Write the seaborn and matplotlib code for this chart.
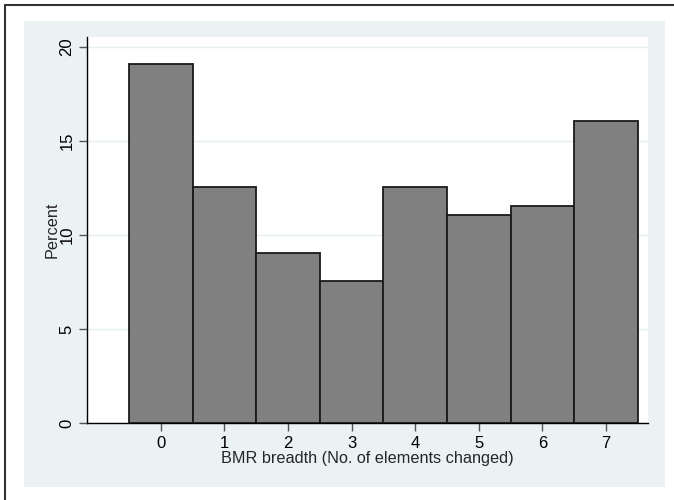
import numpy as np
import pandas as pd
import seaborn as sns
import matplotlib.pyplot as plt
from matplotlib.patches import Rectangle
from matplotlib.lines import Line2D

# BMR breadth values and share of observations (percent)
breadth = [0, 1, 2, 3, 4, 5, 6, 7]
percent = [19.10, 12.56, 9.05, 7.54, 12.56, 11.06, 11.56, 16.08]
yticks = [0, 5, 10, 15, 20]

sns.set_theme(style="white")
plt.rcParams['font.family'] = ['Liberation Sans', 'DejaVu Sans']

W, H = 674, 500
fig = plt.figure(figsize=(W / 100, H / 100), dpi=100)
fig.patch.set_facecolor("white")

# light blue outer panel (Stata style)
fig.add_artist(Rectangle((24 / W, 1 - 487 / H), (665 - 24) / W, (487 - 21) / H,
                         transform=fig.transFigure, facecolor="#EAF2F3",
                         edgecolor="none", zorder=0))
# black frame lines on top and left
fig.add_artist(Line2D([4.5 / W, 1], [1 - 4.5 / H, 1 - 4.5 / H], transform=fig.transFigure,
                      color="#333333", lw=1.5))
fig.add_artist(Line2D([4.5 / W, 4.5 / W], [0, 1 - 4.5 / H], transform=fig.transFigure,
                      color="#333333", lw=1.5))

ax = fig.add_axes([87 / W, 1 - 423 / H, (648 - 87) / W, (423 - 37) / H])
ax.set_facecolor("white")

df = pd.DataFrame({"breadth": breadth, "percent": percent})
sns.histplot(data=df, x="breadth", weights="percent", discrete=True, ax=ax,
             color="#808080", edgecolor="#1a1a1a", linewidth=1.3, alpha=1, zorder=3)

ax.set_xlim(-1.16, 7.66)
ax.set_ylim(0, 20.53)
ax.set_yticks(yticks)
ax.set_yticklabels([str(v) for v in yticks], rotation=90, va="center", fontsize=12)
ax.set_xticks(breadth)
ax.set_xticklabels([str(v) for v in breadth], fontsize=12)
ax.yaxis.grid(True, color="#E6EFEF", lw=1, zorder=0)
ax.set_axisbelow(True)

for s in ["top", "right"]:
    ax.spines[s].set_visible(False)
for s in ["left", "bottom"]:
    ax.spines[s].set_color("black")
    ax.spines[s].set_linewidth(1.0)

ax.tick_params(axis="both", which="major", direction="out", length=6, width=1,
               color="#555555", labelcolor="black", bottom=True, left=True, pad=3)

ax.set_xlabel("BMR breadth (No. of elements changed)", fontsize=11.7, labelpad=0)
ax.set_ylabel("Percent", fontsize=11.7, labelpad=0)

fig.savefig("out.png", dpi=100)
